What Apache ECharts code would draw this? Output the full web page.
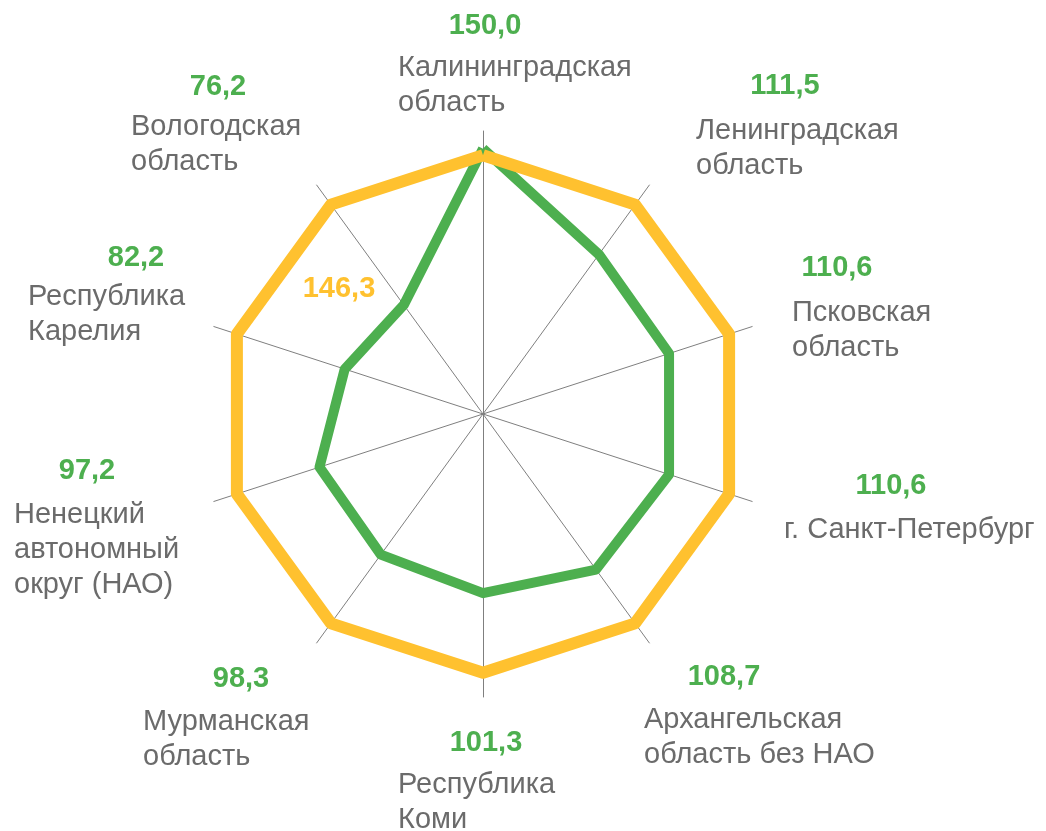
<!DOCTYPE html>
<html>
<head>
<meta charset="utf-8">
<script src="https://cdn.jsdelivr.net/npm/echarts@6/dist/echarts.min.js"></script>
<style>
  html, body { margin: 0; padding: 0; background: #fff; }
  #chart { width: 1046px; height: 831px; }
</style>
</head>
<body>
<div id="chart"></div>
<script>
// regions, clockwise from the top
const regions = [
  'Калининградская\nобласть',
  'Ленинградская\nобласть',
  'Псковская\nобласть',
  'г. Санкт-Петербург',
  'Архангельская\nобласть без НАО',
  'Республика\nКоми',
  'Мурманская\nобласть',
  'Ненецкий\nавтономный\nокруг (НАО)',
  'Республика\nКарелия',
  'Вологодская\nобласть'
];
const regionValues = [150.0, 111.5, 110.6, 110.6, 108.7, 101.3, 98.3, 97.2, 82.2, 76.2];
const levelValues = [146.3, 146.3, 146.3, 146.3, 146.3, 146.3, 146.3, 146.3, 146.3, 146.3];
const axisMax = 160;

// label placement: [name x, name baseline, value centre x, value baseline]
const labelPos = [
  [398, 76, 485, 34],
  [696, 139, 785, 94],
  [792, 321, 837, 276],
  [784, 538, 891, 494],
  [644, 728, 724, 685],
  [398, 793, 486, 751],
  [143, 730, 241, 687],
  [14, 523, 87, 479],
  [28, 305, 136, 266],
  [131, 135, 218, 95]
];
const levelLabelPos = [339, 297];

const GREEN = '#4DAF4F';
const ORANGE = '#FFC12F';
const GREY = '#6B6B6B';
const nameSize = 29, nameLine = 35, valueSize = 29;
const fmt = v => v.toFixed(1).replace('.', ',');
// distance from text middle to baseline
const mid = fs => 0.3465 * fs - 2;

// echarts radar runs counter-clockwise, so keep first item and reverse the rest
const order = [0].concat(regions.map((_, i) => i).slice(1).reverse());

const chart = echarts.init(document.getElementById('chart'));

const graphics = [];
regions.forEach((name, i) => {
  const p = labelPos[i];
  graphics.push({
    type: 'text',
    style: {
      text: name, x: p[0], y: p[1] - mid(nameSize) - nameLine / 2,
      fill: GREY, font: nameSize + 'px "Liberation Sans", Arial, sans-serif',
      lineHeight: nameLine, textAlign: 'left', textVerticalAlign: 'top'
    }
  });
  graphics.push({
    type: 'text',
    style: {
      text: fmt(regionValues[i]), x: p[2], y: p[3] - mid(valueSize),
      fill: GREEN, font: 'bold ' + valueSize + 'px "Liberation Sans", Arial, sans-serif',
      textAlign: 'center', textVerticalAlign: 'middle'
    }
  });
});
graphics.push({
  type: 'text',
  style: {
    text: fmt(levelValues[0]), x: levelLabelPos[0], y: levelLabelPos[1] - mid(valueSize),
    fill: ORANGE, font: 'bold ' + valueSize + 'px "Liberation Sans", Arial, sans-serif',
    textAlign: 'center', textVerticalAlign: 'middle'
  }
});

chart.setOption({
  animation: false,
  backgroundColor: '#fff',
  radar: {
    center: [483, 414],
    radius: 283,
    startAngle: 90,
    shape: 'polygon',
    splitNumber: 1,
    indicator: order.map(i => ({ name: regions[i], max: axisMax, min: 0 })),
    axisName: { show: false },
    axisLine: { lineStyle: { color: '#7F7F7F', width: 1 } },
    splitLine: { show: false },
    splitArea: { show: false }
  },
  series: [
    {
      type: 'radar',
      symbol: 'none',
      lineStyle: { color: GREEN, width: 10 },
      data: [{ value: order.map(i => regionValues[i]) }]
    },
    {
      type: 'radar',
      symbol: 'none',
      lineStyle: { color: ORANGE, width: 12 },
      data: [{ value: order.map(i => levelValues[i]) }]
    }
  ],
  graphic: graphics
});
</script>
</body>
</html>
